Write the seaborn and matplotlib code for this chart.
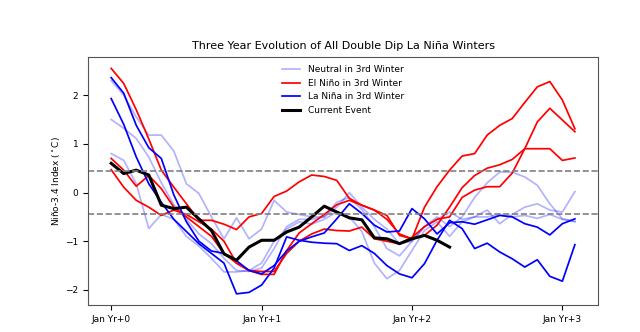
import numpy as np
import pandas as pd
import matplotlib
matplotlib.use("Agg")
import matplotlib.pyplot as plt
import seaborn as sns

months = list(range(38))
tick_pos = [0, 12, 24, 36]
tick_labels = ["Jan Yr+0", "Jan Yr+1", "Jan Yr+2", "Jan Yr+3"]
threshold = 0.45

neutral_1 = [2.30, 2.00, 1.55, 1.18, 1.18, 0.85, 0.18, -0.02, -0.50, -0.95, -0.52, -0.95, -0.75,
             -0.16, -0.40, -0.45, -0.50, -0.50, -0.30, 0.00, -0.30, -0.55, -0.75, -1.05, -1.00,
             -0.70, -0.50, -0.70, -0.50, -0.10, 0.20, 0.42, 0.42, 0.32, 0.15, -0.23, -0.54, -0.59]
neutral_2 = [1.50, 1.32, 1.11, 0.73, 0.20, -0.25, -0.55, -0.85, -1.05, -1.35, -1.60, -1.62, -1.55,
             -1.15, -0.70, -0.55, -0.55, -0.50, -0.20, -0.10, -0.35, -0.70, -1.15, -1.30, -1.00,
             -0.70, -0.55, -0.40, -0.55, -0.50, -0.36, -0.64, -0.45, -0.30, -0.23, -0.36, -0.40, 0.02]
neutral_3 = [0.80, 0.66, 0.18, -0.74, -0.45, -0.55, -0.90, -1.10, -1.35, -1.63, -1.63, -1.60, -1.45,
             -1.00, -0.75, -0.60, -0.65, -0.55, -0.40, -0.50, -0.80, -1.45, -1.77, -1.60, -1.19,
             -0.78, -0.60, -0.90, -0.60, -0.50, -0.50, -0.45, -0.50, -0.47, -0.53, -0.45, -0.55, -0.60]

elnino_1 = [2.55, 2.24, 1.70, 1.10, 0.46, 0.11, -0.23, -0.57, -0.57, -0.65, -0.76, -0.50, -0.43,
            -0.08, 0.03, 0.22, 0.36, 0.33, 0.25, -0.12, -0.26, -0.36, -0.47, -0.88, -0.95,
            -0.30, 0.12, 0.46, 0.75, 0.80, 1.18, 1.38, 1.52, 1.85, 2.17, 2.28, 1.90, 1.31]
elnino_2 = [0.70, 0.46, 0.13, 0.35, 0.08, -0.30, -0.50, -0.70, -0.90, -1.25, -1.45, -1.60, -1.68,
            -1.68, -1.19, -0.83, -0.64, -0.45, -0.25, -0.16, -0.26, -0.36, -0.55, -0.85, -0.95,
            -0.88, -0.67, -0.30, 0.10, 0.35, 0.50, 0.57, 0.68, 0.90, 0.90, 0.90, 0.66, 0.71]
elnino_3 = [0.47, 0.11, -0.16, -0.30, -0.47, -0.36, -0.45, -0.60, -0.75, -1.00, -1.45, -1.60, -1.62,
            -1.62, -1.25, -1.00, -0.85, -0.75, -0.78, -0.79, -0.71, -0.95, -1.00, -1.05, -0.92,
            -0.70, -0.55, -0.50, -0.10, 0.05, 0.12, 0.12, 0.40, 0.90, 1.45, 1.73, 1.49, 1.25]

lanina_1 = [2.36, 2.04, 1.38, 0.92, 0.70, -0.05, -0.60, -1.00, -1.20, -1.25, -1.40, -1.60, -1.67,
            -1.50, -1.20, -1.00, -0.91, -0.83, -0.54, -0.23, -0.43, -0.67, -0.81, -0.79, -0.33,
            -0.54, -0.85, -0.62, -0.60, -0.65, -0.56, -0.47, -0.50, -0.64, -0.71, -0.87, -0.64, -0.54]
lanina_2 = [1.93, 1.40, 0.73, 0.18, -0.20, -0.55, -0.80, -1.05, -1.25, -1.45, -2.08, -2.05, -1.90,
            -1.55, -0.91, -0.98, -1.02, -1.04, -1.05, -1.19, -1.09, -1.25, -1.50, -1.67, -1.75,
            -1.46, -0.98, -0.57, -0.74, -1.15, -1.04, -1.22, -1.36, -1.53, -1.38, -1.72, -1.82, -1.07]

current = [0.60, 0.39, 0.46, 0.36, -0.26, -0.33, -0.30, -0.54, -0.78, -1.26, -1.39, -1.12, -0.98,
           -0.98, -0.81, -0.71, -0.50, -0.28, -0.40, -0.52, -0.56, -0.93, -0.95, -1.05, -0.95,
           -0.88, -0.98, -1.12]

fig = plt.figure(figsize=(6.4, 3.32), dpi=100)
ax = fig.add_axes([0.1375, 0.081, 0.797, 0.747])

groups = [
    ("Neutral in 3rd Winter", [neutral_1, neutral_2, neutral_3], dict(color="blue", alpha=0.3, lw=1.25)),
    ("El Niño in 3rd Winter", [elnino_1, elnino_2, elnino_3], dict(color="red", lw=1.25)),
    ("La Niña in 3rd Winter", [lanina_1, lanina_2], dict(color="blue", lw=1.25)),
]
for label, series, style in groups:
    for i, s in enumerate(series):
        sns.lineplot(x=months[:len(s)], y=s, ax=ax, label=label if i == 0 else None, **style)

sns.lineplot(x=months[:len(current)], y=current, ax=ax, color="black", lw=2.2, label="Current Event")

ax.axhline(threshold, color="gray", ls="--", lw=1.2)
ax.axhline(-threshold, color="gray", ls="--", lw=1.2)

ax.set_xticks(tick_pos)
ax.set_xticklabels(tick_labels, fontsize=6.5)
ax.set_yticks([-2, -1, 0, 1, 2])
ax.tick_params(axis="y", labelsize=6.5)
ax.set_ylabel("Niño-3.4 Index ($^\\circ$C)", fontsize=6.5, labelpad=2)
ax.set_xlabel("")
ax.set_title("Three Year Evolution of All Double Dip La Niña Winters", fontsize=8)
ax.legend(loc="upper center", frameon=False, fontsize=6.5)
for sp in ax.spines.values():
    sp.set_color("#555555")

fig.savefig("out.png", dpi=100)
